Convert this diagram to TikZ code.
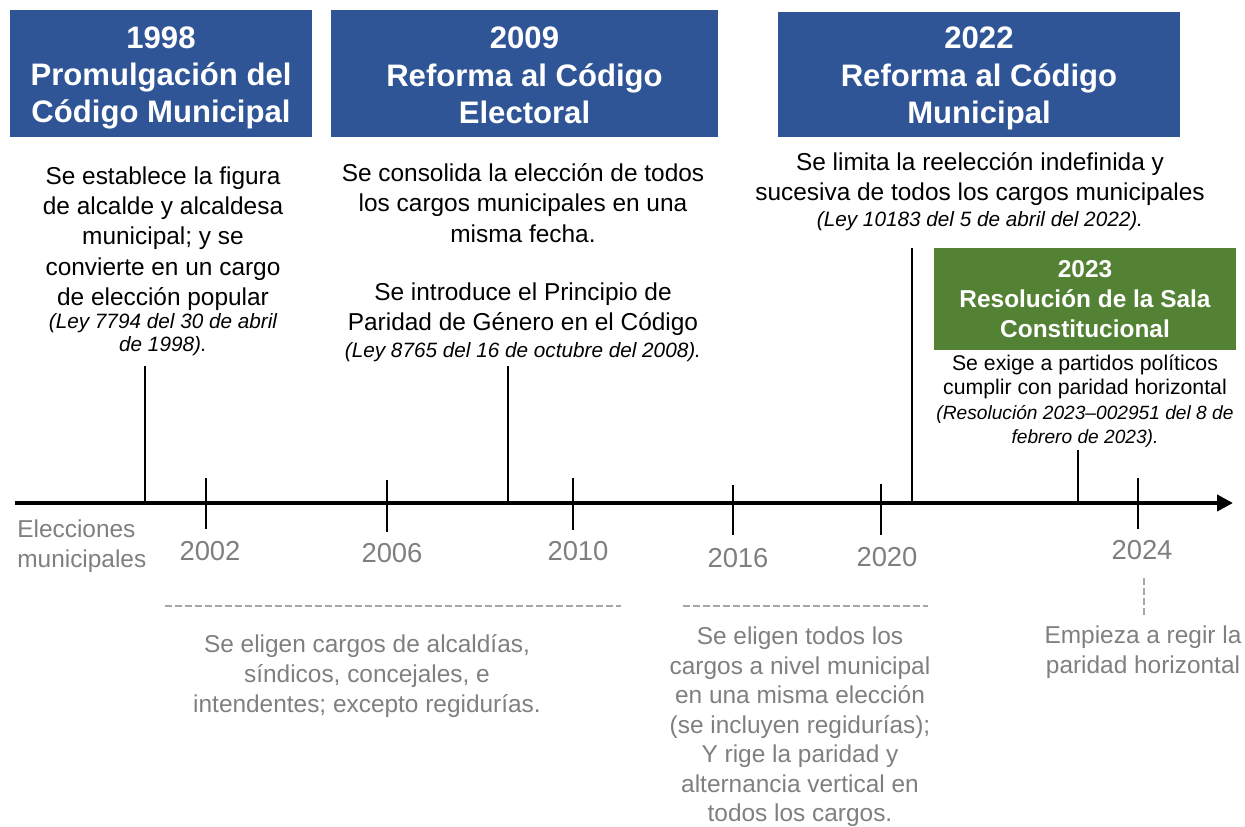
\documentclass[tikz,border=0pt]{standalone}
\usepackage{fontspec}
\setmainfont{Liberation Sans}
\usetikzlibrary{arrows.meta}
\definecolor{headblue}{HTML}{2F5597}
\definecolor{headgreen}{HTML}{548235}
\definecolor{notegray}{HTML}{7F7F7F}
\definecolor{guidegray}{HTML}{A6A6A6}

\begin{document}
\begin{tikzpicture}[x=0.02cm,y=-0.02cm,
    head box/.style={fill=headblue,inner sep=0pt},
    head text/.style={text=white,align=center,inner sep=0pt,font=\bfseries\fontsize{17.7}{21.3}\selectfont},
    desc/.style={align=center,inner sep=0pt,font=\fontsize{13.9}{17.2}\selectfont},
    ref/.style={align=center,inner sep=0pt,font=\itshape\fontsize{11.8}{13}\selectfont},
    note/.style={align=center,inner sep=0pt,text=notegray,font=\fontsize{13.9}{17}\selectfont},
    year/.style={inner sep=0pt,text=notegray,font=\fontsize{15.6}{18}\selectfont},
    axis/.style={line width=2.3pt,-{Triangle[length=0.32cm,width=0.32cm]}},
    tick/.style={line width=1.6pt},
    event/.style={line width=1.6pt},
    guide/.style={guidegray,line width=1.1pt,dash pattern=on 4pt off 1.7pt}]

\useasboundingbox (0,0) rectangle (1245,827);

% encabezados
\node[head box,minimum width=6.04cm,minimum height=2.54cm] (h1998) at (161,73.5) {};
\node[head box,minimum width=7.74cm,minimum height=2.54cm] (h2009) at (524.5,73.5) {};
\node[head box,minimum width=8.04cm,minimum height=2.5cm] (h2022) at (979,74.5) {};
\node[head box,fill=headgreen,minimum width=6.04cm,minimum height=2.04cm] (h2023) at (1085,299) {};
\node[head text] (t1998) at ([yshift=-0.09cm]h1998.center) {1998\\Promulgación del\\Código Municipal};
\node[head text] (t2009) at ([yshift=-0.04cm]h2009.center) {2009\\Reforma al Código\\Electoral};
\node[head text] (t2022) at ([yshift=-0.08cm]h2022.center) {2022\\Reforma al Código\\Municipal};
\node[head text,font=\bfseries\fontsize{13.9}{17}\selectfont] (t2023) at (h2023.center) {2023\\Resolución de la Sala\\Constitucional};

% descripciones
\node[desc] (d1998) at (163,238.5) {Se establece la figura\\de alcalde y alcaldesa\\municipal; y se\\convierte en un cargo\\de elección popular};
\node[ref] (r1998) at (163,334.5) {(Ley 7794 del 30 de abril\\de 1998).};
\node[desc] (d2009) at (523,203) {Se consolida la elección de todos\\los cargos municipales en una\\misma fecha.};
\node[desc] (p2009) at (523,309.5) {Se introduce el Principio de\\Paridad de Género en el Código};
\node[ref] (r2009) at (523,352) {(Ley 8765 del 16 de octubre del 2008).};
\node[desc] (d2022) at (980,179) {Se limita la reelección indefinida y\\sucesiva de todos los cargos municipales};
\node[ref] (r2022) at (980,221) {(Ley 10183 del 5 de abril del 2022).};
\node[desc,font=\fontsize{12.1}{13.6}\selectfont] (d2023) at (1085,377) {Se exige a partidos políticos\\cumplir con paridad horizontal};
\node[ref,font=\itshape\fontsize{10.9}{13.6}\selectfont] (r2023) at (1085,426) {(Resolución 2023–002951 del 8 de\\febrero de 2023).};

% eje
\coordinate (start) at (15,503);
\coordinate (end) at (1233,503);
\draw[axis] (start) -- (end);

\foreach \x/\top/\nm in {145/366/1998, 508/366/2009, 912/248/2022, 1078/450/2023}{
  \coordinate (s\nm) at (\x,\top);
  \coordinate (a\nm) at (\x,503);
  \draw[event] (s\nm) -- (a\nm);
}

\foreach \x/\top/\bot/\lx/\ly/\yr in {206/478/529/210/551/2002, 387/480/532/392/553/2006,
    573/478/530/578/551/2010, 733/485/535/738/558/2016, 881/484/535/887/557/2020,
    1138/478/529/1142/550/2024}{
  \coordinate (tt\yr) at (\x,\top);
  \coordinate (tb\yr) at (\x,\bot);
  \draw[tick] (tt\yr) -- (tb\yr);
  \node[year] (y\yr) at (\lx,\ly) {\yr};
}

% elecciones
\node[note,anchor=west,align=left] (elec) at (17,546) {Elecciones\\municipales};

\coordinate (g1a) at (165,606);
\coordinate (g1b) at (621,606);
\coordinate (g2a) at (683,606);
\coordinate (g2b) at (928,606);
\coordinate (g3a) at (1144,578);
\coordinate (g3b) at (1144,615);
\draw[guide] (g1a) -- (g1b);
\draw[guide] (g2a) -- (g2b);
\draw[guide] (g3a) -- (g3b);

\node[note] (n2002) at (367,676) {Se eligen cargos de alcaldías,\\síndicos, concejales, e\\intendentes; excepto regidurías.};
\node[note,font=\fontsize{13.9}{16.8}\selectfont] (n2016) at (800,727) {Se eligen todos los\\cargos a nivel municipal\\en una misma elección\\(se incluyen regidurías);\\Y rige la paridad y\\alternancia vertical en\\todos los cargos.};
\node[note] (n2024) at (1143,652) {Empieza a regir la\\paridad horizontal};

\end{tikzpicture}
\end{document}
